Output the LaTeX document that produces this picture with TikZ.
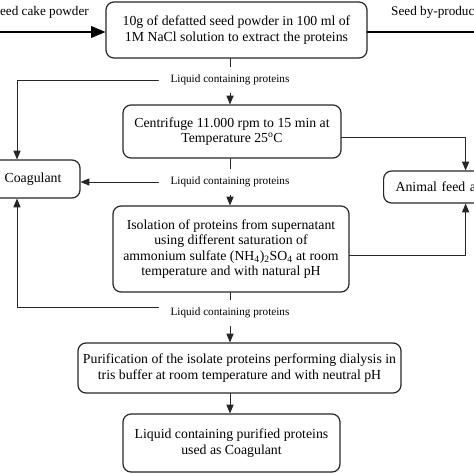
\documentclass[tikz,border=0pt]{standalone}
\usepackage{fontspec}
\setmainfont{Liberation Serif}
\usetikzlibrary{arrows}
\begin{document}
\begin{tikzpicture}[line cap=round,line join=round,>=triangle 45,x=1pt,y=-1pt,
        stepbox/.style={draw=black!85,line width=1.2pt,rounded corners=8pt,align=center,inner sep=0pt,font=\fontsize{13.8}{15.5}\selectfont},
        liquid/.style={inner xsep=12pt,inner ysep=8pt,font=\fontsize{11.2}{13}\selectfont},
        flow/.style={line width=1pt,draw=black!85}]
        \useasboundingbox (0,0) rectangle (474,474);
        \clip (0,0) rectangle (474,474);

        \node [stepbox,minimum width=261pt,minimum height=56pt] (defat) at (236.5,30) {10g of defatted seed powder in 100 ml of\\1M NaCl solution to extract the proteins};
        \node [stepbox,minimum width=218pt,minimum height=53pt] (centri) at (232,131.5) {Centrifuge 11.000 rpm to 15 min at\\Temperature 25\textsuperscript{o}C};
        \node [stepbox,minimum width=94pt,minimum height=38pt] (coag) at (33,179) {Coagulant};
        \node [stepbox,anchor=west,text width=140pt,inner xsep=12pt,align=left,minimum height=32pt] (feed) at (383,187) {Animal feed and};
        \node [stepbox,minimum width=236pt,minimum height=86pt] (isol) at (231,249) {Isolation of proteins from supernatant\\using different saturation of\\ammonium sulfate (NH\textsubscript{4})\textsubscript{2}SO\textsubscript{4} at room\\temperature and with natural pH};
        \node [stepbox,minimum width=323pt,minimum height=50pt] (purif) at (239.5,368) {Purification of the isolate proteins performing dialysis in\\tris buffer at room temperature and with neutral pH};
        \node [stepbox,minimum width=217pt,minimum height=58pt] (final) at (231.5,443) {Liquid containing purified proteins\\used as Coagulant};

        \node [liquid] (liq1) at (230,80) {Liquid containing proteins};
        \node [liquid] (liq2) at (230,182) {Liquid containing proteins};
        \node [liquid] (liq3) at (230,313) {Liquid containing proteins};

        \node [anchor=east,inner sep=0pt,font=\fontsize{13.2}{15}\selectfont] (cake) at (89,12) {Seed cake powder};
        \node [anchor=west,inner sep=0pt,font=\fontsize{13.2}{15}\selectfont] (byprod) at (391,12) {Seed by-products};
        \coordinate (cakein) at (0,32);
        \coordinate (byout) at (474,32);

        \draw [->,line width=2.4pt] (cakein) -- ([yshift=-2pt]defat.west);
        \draw [line width=2.4pt] ([yshift=-2pt]defat.east) -- (byout);

        \draw [flow] (defat.south -| liq1) -- (liq1.north);
        \draw [flow,->] (liq1.south) -- (liq1.south |- centri.north);
        \draw [flow] (centri.south -| liq2) -- (liq2.north);
        \draw [flow,->] (liq2.south) -- (liq2.south |- isol.north);
        \draw [flow] (isol.south -| liq3) -- (liq3.north);
        \draw [flow,->] (liq3.south) -- (liq3.south |- purif.north);
        \draw [flow,->] (purif.south -| liq3) -- (final.north -| liq3);

        \draw [flow,->] (liq1.west) -| ([xshift=-16pt]coag.north);
        \draw [flow,->] (liq2.west) -- (coag.east |- liq2.west);
        \draw [flow,->] ([yshift=6pt]liq3.west) -| ([xshift=-16pt]coag.south);

        \draw [flow,->] ([yshift=-5.5pt]centri.east) -| (feed.north);
        \draw [flow,->] ([yshift=-6pt]isol.east) -| (feed.south);
\end{tikzpicture}
\end{document}
